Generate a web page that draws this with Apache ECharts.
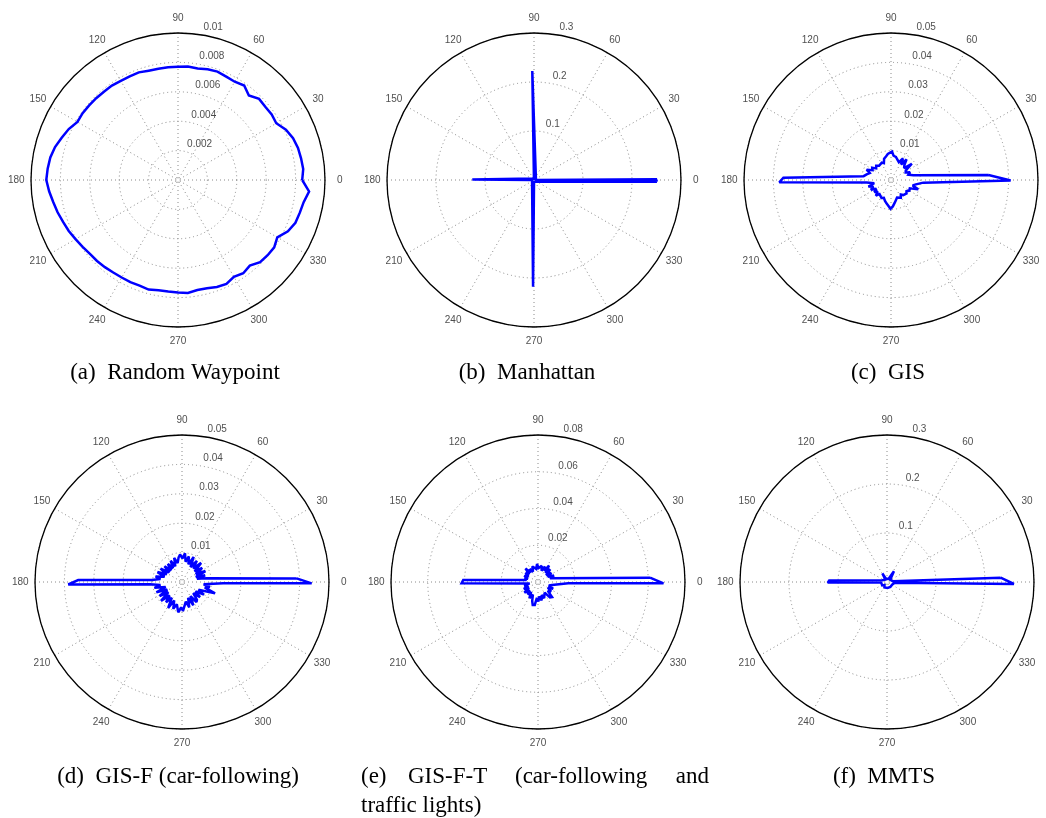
<!DOCTYPE html>
<html>
<head>
<meta charset="utf-8">
<script src="https://cdn.jsdelivr.net/npm/echarts@6/dist/echarts.min.js"></script>
<style>
  html, body { margin: 0; padding: 0; background: #fff; }
  #chart { width: 1046px; height: 818px; }
</style>
</head>
<body>
<div id="chart"></div>
<script>
// Direction-of-movement distributions for six mobility models (polar plots).

// angle tick labels (degrees)
const angleTicks = [0, 30, 60, 90, 120, 150, 180, 210, 240, 270, 300, 330];

// (a) Random Waypoint: sampled every 5 degrees
const rwpAngles = [0,5,10,15,20,25,30,35,40,45,50,55,60,65,70,75,80,85,90,95,100,105,110,115,
  120,125,130,135,140,145,150,155,160,165,170,175,180,185,190,195,200,205,210,215,220,225,230,235,
  240,245,250,255,260,265,270,275,280,285,290,295,300,305,310,315,320,325,330,335,340,345,350,355,0];
const rwpValues = [0.00845,0.00855,0.00850,0.00845,0.00833,0.00810,0.00772,0.00778,0.00775,0.00780,
  0.00750,0.00785,0.00772,0.00776,0.00785,0.00780,0.00770,0.00775,0.00771,0.00770,0.00768,0.00770,
  0.00779,0.00777,0.00778,0.00784,0.00784,0.00787,0.00789,0.00792,0.00790,0.00820,0.00842,0.00866,
  0.00882,0.00890,0.00896,0.00880,0.00862,0.00848,0.00832,0.00820,0.00805,0.00792,0.00782,0.00779,
  0.00774,0.00768,0.00766,0.00767,0.00764,0.00772,0.00762,0.00762,0.00766,0.00771,0.00760,0.00762,
  0.00774,0.00780,0.00760,0.00774,0.00760,0.00790,0.00796,0.00799,0.00780,0.00825,0.00850,0.00858,
  0.00868,0.00895,0.00845];
const rwpRings = [0.002, 0.004, 0.006, 0.008, 0.01];

// (b) Manhattan
const manAngles = [359.2, 0.4, 1.5, 89.2, 90.9, 92.5, 178.2, 179.6, 180.6, 181.8, 268.2, 269.5, 270.8, 357.5, 359.2];
const manValues = [0.251, 0.249, 0.004, 0.003, 0.2225, 0.003, 0.004, 0.126, 0.125, 0.004, 0.003, 0.2177, 0.003, 0.004, 0.251];
const manRings = [0.1, 0.2, 0.3];

// (c) GIS
const gisAngles = [2.9,12,17,22,27,33,38,42,48,53,57,61,66,72,78,84,88,92,97,102,108,113,118,124,130,136,
  142,147,152,157,162,167,172,175,178.8,181.2,186,191,196,201,206,211,216,221,226,231,236,242,248,254,
  259,264,269,274,279,284,289,294,299,304,309,314,319,324,330,336,341,346,350,355.3,359.8,2.9];
const gisValues = [0.0332,0.0078,0.0062,0.0070,0.0056,0.0060,0.0090,0.0060,0.0068,0.0088,0.0063,0.0084,
  0.0066,0.0072,0.0080,0.0083,0.0097,0.0093,0.0089,0.0082,0.0076,0.0062,0.0067,0.0065,0.0063,0.0070,
  0.0064,0.0076,0.0071,0.0090,0.0076,0.0085,0.0094,0.0095,0.0366,0.0380,0.0083,0.0058,0.0080,0.0064,
  0.0076,0.0058,0.0070,0.0060,0.0074,0.0062,0.0064,0.0069,0.0065,0.0074,0.0081,0.0088,0.0098,0.0090,
  0.0079,0.0070,0.0063,0.0062,0.0069,0.0060,0.0066,0.0062,0.0070,0.0065,0.0072,0.0070,0.0098,0.0076,
  0.0086,0.0110,0.0407,0.0332];
const gisRings = [0.01, 0.02, 0.03, 0.04, 0.05];

// (d) GIS-F (car-following)
const gisfAngles = [1.8,8.5,12,16,20,25,30,35,40,45,50,55,60,65,70,75,80,84,89,94,98,103,108,113,118,123,
  128,133,138,143,148,153,158,163,168,172,176,178.9,181.2,184,188,192,197,202,207,212,217,222,227,232,
  237,242,247,252,257,263,268,272,276,281,286,291,296,301,306,310,315,320,325,330,335,341,346,350,354,
  358.2,359.4,1.8];
const gisfValues = [0.0390,0.0085,0.0052,0.0082,0.0050,0.0088,0.0054,0.0084,0.0056,0.0092,0.0060,0.0088,
  0.0058,0.0094,0.0064,0.0090,0.0070,0.0098,0.0080,0.0094,0.0084,0.0066,0.0086,0.0058,0.0082,0.0056,
  0.0078,0.0054,0.0080,0.0054,0.0086,0.0058,0.0090,0.0062,0.0092,0.0074,0.0103,0.0353,0.0387,0.0109,
  0.0074,0.0096,0.0058,0.0094,0.0056,0.0090,0.0058,0.0096,0.0062,0.0088,0.0064,0.0100,0.0068,0.0096,
  0.0078,0.0104,0.0086,0.0098,0.0096,0.0068,0.0090,0.0058,0.0088,0.0056,0.0084,0.0079,0.0054,0.0080,
  0.0056,0.0086,0.0062,0.0119,0.0080,0.0096,0.0074,0.0140,0.0441,0.0390];
const gisfRings = [0.01, 0.02, 0.03, 0.04, 0.05];

// (e) GIS-F-T (car-following and traffic lights)
const gisftAngles = [2.2,17,22,28,34,40,46,51,56,61,66,72,77,83,88,93,98,104,110,116,122,128,133,138,144,
  150,156,162,167,170,178.5,181,189.5,195,200,206,212,218,224,230,236,242,248,253,257,262,266,271,276,
  281,286,291,296,302,308,313,318,324,330,336,342,348,354,357.5,359.4,2.2];
const gisftValues = [0.0610,0.0068,0.0094,0.0060,0.0088,0.0058,0.0096,0.0064,0.0108,0.0070,0.0092,0.0064,
  0.0090,0.0095,0.0076,0.0098,0.0072,0.0066,0.0090,0.0062,0.0084,0.0066,0.0100,0.0064,0.0084,0.0060,
  0.0082,0.0058,0.0076,0.0063,0.0407,0.0416,0.0046,0.0078,0.0056,0.0086,0.0058,0.0094,0.0064,0.0088,
  0.0066,0.0100,0.0074,0.0108,0.0128,0.0126,0.0086,0.0106,0.0078,0.0102,0.0074,0.0094,0.0086,0.0068,
  0.0106,0.0112,0.0072,0.0088,0.0062,0.0090,0.0062,0.0078,0.0066,0.0165,0.0683,0.0610];
const gisftRings = [0.02, 0.04, 0.06, 0.08];

// (f) MMTS
const mmtsAngles = [2.2,8,20,35,50,57,62,75,90,105,118,125,140,160,175,178.5,180.6,182,186,200,215,230,245,
  260,275,290,305,320,335,350,355,359.1,2.2];
const mmtsValues = [0.232,0.012,0.010,0.008,0.010,0.026,0.008,0.006,0.008,0.006,0.020,0.006,0.008,0.010,
  0.012,0.118,0.121,0.119,0.012,0.010,0.012,0.008,0.012,0.009,0.012,0.010,0.012,0.010,0.012,0.014,0.016,
  0.259,0.232];
const mmtsRings = [0.1, 0.2, 0.3];

const captions = ['(a)  Random Waypoint', '(b)  Manhattan', '(c)  GIS', '(d)  GIS-F (car-following)', '', '(f)  MMTS'];

// ---- layout ----
const R = 147;
const LABEL_R = 1.1;   // angle labels sit just outside the outer circle
const panels = [
  { angles: rwpAngles,   values: rwpValues,   rings: rwpRings,   center: [178, 180], cap: [175, 373] },
  { angles: manAngles,   values: manValues,   rings: manRings,   center: [534, 180], cap: [527, 373] },
  { angles: gisAngles,   values: gisValues,   rings: gisRings,   center: [891, 180], cap: [888, 373] },
  { angles: gisfAngles,  values: gisfValues,  rings: gisfRings,  center: [182, 582], cap: [178, 777] },
  { angles: gisftAngles, values: gisftValues, rings: gisftRings, center: [538, 582], cap: null },
  { angles: mmtsAngles,  values: mmtsValues,  rings: mmtsRings,  center: [887, 582], cap: [884, 777] }
];

const gridStyle = { color: '#8a8a8a', width: 1, type: [1, 3] };
const tickFont = 'Liberation Sans';
const captionFont = '23px "Liberation Serif"';

const option = {
  backgroundColor: '#fff',
  animation: false,
  polar: panels.map(p => ({ center: p.center, radius: R })),
  angleAxis: panels.map((p, i) => ({
    polarIndex: i,
    type: 'value',
    min: 0, max: 360, interval: 30,
    startAngle: 0,
    clockwise: false,
    axisLine: { show: true, lineStyle: { color: '#000', width: 1.3 } },
    axisTick: { show: false },
    axisLabel: { show: false },
    splitLine: { show: true, lineStyle: gridStyle },
    z: 1
  })),
  radiusAxis: panels.map((p, i) => ({
    polarIndex: i,
    type: 'value',
    min: 0, max: p.rings[p.rings.length - 1], interval: p.rings[0],
    axisLine: { show: false },
    axisTick: { show: false },
    axisLabel: { show: false },
    splitLine: { show: true, lineStyle: gridStyle },
    z: 1
  })),
  series: [],
  graphic: []
};

panels.forEach((p, i) => {
  const rmax = p.rings[p.rings.length - 1];
  option.series.push({
    type: 'line',
    coordinateSystem: 'polar',
    polarIndex: i,
    data: p.values.map((v, k) => [v, p.angles[k]]),
    showSymbol: false,
    symbol: 'none',
    smooth: false,
    lineStyle: { color: '#0000ff', width: 2.5, join: 'miter', miterLimit: 2 },
    z: 5
  });
  // ring value labels along the 82-degree direction
  option.series.push({
    type: 'scatter',
    coordinateSystem: 'polar',
    polarIndex: i,
    clip: false,
    symbolSize: 0,
    silent: true,
    data: p.rings.map(r => [r, 82]),
    label: {
      show: true, position: 'right', distance: 5, offset: [0, -7],
      fontSize: 10, fontFamily: tickFont, color: '#222',
      formatter: q => String(p.rings[q.dataIndex])
    },
    z: 4
  });
  // angle labels centred outside the outer circle
  option.series.push({
    type: 'scatter',
    coordinateSystem: 'polar',
    polarIndex: i,
    clip: false,
    symbolSize: 0,
    silent: true,
    data: angleTicks.map(a => [rmax * LABEL_R, a]),
    label: {
      show: true, position: 'inside',
      fontSize: 10, fontFamily: tickFont, color: '#222',
      formatter: q => String(angleTicks[q.dataIndex])
    },
    z: 4
  });
  if (p.cap) {
    option.graphic.push({
      type: 'text', x: p.cap[0], y: p.cap[1],
      style: { text: captions[i], font: captionFont, fill: '#000',
               align: 'center', verticalAlign: 'middle', textAlign: 'center', textVerticalAlign: 'middle' }
    });
  }
});

// (e) caption: justified first line, then a second line
const eWords = [
  { t: '(e)', x: 361, a: 'left' },
  { t: 'GIS-F-T', x: 408, a: 'left' },
  { t: '(car-following', x: 515, a: 'left' },
  { t: 'and', x: 709, a: 'right' }
];
eWords.forEach(w => option.graphic.push({
  type: 'text', x: w.x, y: 777,
  style: { text: w.t, font: captionFont, fill: '#000', align: w.a, textAlign: w.a,
           verticalAlign: 'middle', textVerticalAlign: 'middle' }
}));
option.graphic.push({
  type: 'text', x: 361, y: 806,
  style: { text: 'traffic lights)', font: captionFont, fill: '#000', align: 'left', textAlign: 'left',
           verticalAlign: 'middle', textVerticalAlign: 'middle' }
});

const chart = echarts.init(document.getElementById('chart'), null, { renderer: 'canvas' });
chart.setOption(option);
</script>
</body>
</html>
